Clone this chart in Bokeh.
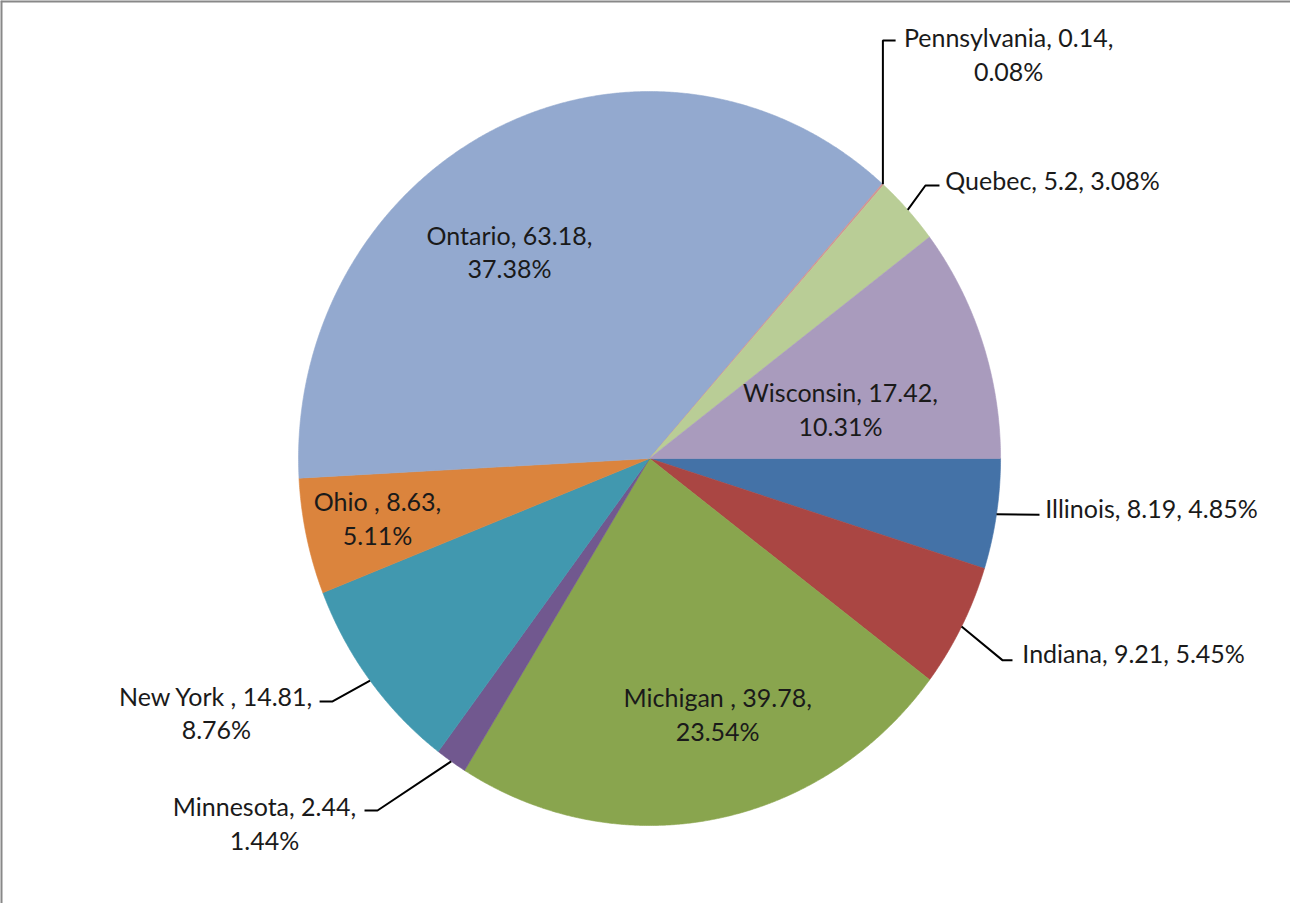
import numpy as np
from bokeh.plotting import figure
from bokeh.models import Range1d, Span, ColumnDataSource
from bokeh.embed import file_html
from bokeh.resources import INLINE
from bokeh.core.properties import value

# ---- data ----
regions = ["Illinois", "Indiana", "Michigan ", "Minnesota", "New York ",
           "Ohio ", "Ontario", "Pennsylvania", "Quebec", "Wisconsin"]
amounts = [8.19, 9.21, 39.78, 2.44, 14.81, 8.63, 63.18, 0.14, 5.2, 17.42]
percents = [4.85, 5.45, 23.54, 1.44, 8.76, 5.11, 37.38, 0.08, 3.08, 10.31]
colors = ["#4472A7", "#AA4643", "#89A54E", "#71588F", "#4198AF",
          "#DB843D", "#93A9CF", "#D19392", "#B9CD96", "#A99BBD"]

# ---- layout of labels (data units: pie centre 0,0, radius 1) ----
wrap = [False, False, True, True, True, True, True, True, False, True]
label_x = [1.430, 1.379, 0.194, -1.097, -1.234, -0.775, -0.399, 1.023, 1.148, 0.544]
label_y = [-0.134, -0.529, -0.695, -0.992, -0.692, -0.163, 0.564, 1.101, 0.760, 0.134]
outside = [True, True, False, True, True, False, False, True, True, False]
elbow_x = [1.111, 1.006, 0, -0.775, -0.903, 0, 0, None, 0.786, 0]
elbow_y = [-0.153, -0.550, 0, -0.959, -0.662, 0, 0, 1.139, 0.744, 0]
end_x = [1.111, 1.034, 0, -0.812, -0.940, 0, 0, 0.701, 0.826, 0]
end_y = [-0.153, -0.550, 0, -0.959, -0.662, 0, 0, 1.139, 0.744, 0]

W, H = 1290, 903
p = figure(width=W, height=H, output_backend="svg", toolbar_location=None,
           x_range=Range1d(-1.849, 1.826), y_range=Range1d(-1.2125, 1.248),
           min_border=0)
p.axis.visible = False
p.grid.visible = False
p.outline_line_color = None
p.background_fill_color = "white"

vals = np.array(amounts, dtype=float)
cum = np.concatenate([[0], np.cumsum(vals)]) / vals.sum()
starts = -2 * np.pi * cum[:-1]
ends = -2 * np.pi * cum[1:]
mids = (starts + ends) / 2

xs, ys = [], []
for a0, a1 in zip(starts, ends):
    n = max(4, int(abs(a1 - a0) / 0.005))
    t = np.linspace(a0, a1, n)
    xs.append([0.0] + list(np.cos(t)) + [0.0])
    ys.append([0.0] + list(np.sin(t)) + [0.0])

p.patches(xs=xs, ys=ys, fill_color=colors, line_color=colors, line_width=0.6)

# leader lines
lx, ly = [], []
for i in range(len(regions)):
    if not outside[i]:
        continue
    ax, ay = np.cos(mids[i]), np.sin(mids[i])
    ex = elbow_x[i] if elbow_x[i] is not None else ax
    lx.append([ax, ex, end_x[i]])
    ly.append([ay, elbow_y[i], end_y[i]])
p.multi_line(xs=lx, ys=ly, line_color="black", line_width=2)

# labels
texts = []
for name, a, pc, w in zip(regions, amounts, percents, wrap):
    sep = "\n" if w else " "
    texts.append(f"{name}, {a:g},{sep}{pc:.2f}%")
src = ColumnDataSource(dict(x=label_x, y=label_y, text=texts))
p.text(x="x", y="y", text="text", source=src, text_font=value("Lato"),
       text_font_size="25px", text_color="#1a1a1a", text_align="center",
       text_baseline="middle", text_line_height=1.13)

# chart border (top and left edges visible)
p.add_layout(Span(location=p.y_range.end, dimension="width", line_color="#888888", line_width=4))
p.add_layout(Span(location=p.x_range.start, dimension="height", line_color="#888888", line_width=4))

open("out.html", "w").write(file_html(p, INLINE))
